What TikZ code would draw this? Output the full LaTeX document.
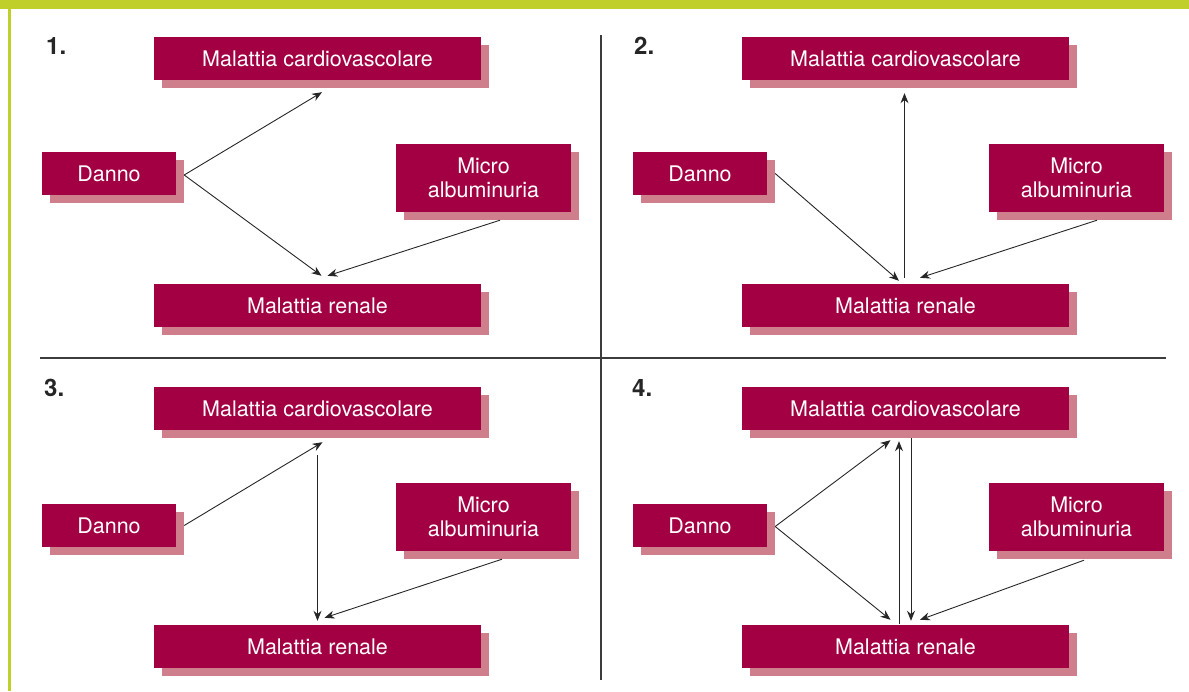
\documentclass[tikz,border=0pt]{standalone}
\usepackage{fontspec}
\setmainfont{TeX Gyre Heros}
\usetikzlibrary{arrows.meta, shadows, calc}
\definecolor{crim}{RGB}{163,0,68}
\definecolor{pk}{RGB}{206,127,139}
\definecolor{lime}{RGB}{193,207,42}
\definecolor{rule}{RGB}{60,60,60}
\tikzset{
  bx/.style   = {fill=crim, text=white, inner sep=0pt, align=center,
                 font=\fontsize{21.5}{23.5}\selectfont,
                 drop shadow={shadow xshift=8pt, shadow yshift=-8pt,
                              fill=pk, opacity=1}},
  wd/.style   = {bx, minimum width=327pt, minimum height=43pt},
  dn/.style   = {bx, minimum width=134pt, minimum height=43pt},
  mi/.style   = {bx, minimum width=175pt, minimum height=68pt},
  num/.style  = {font=\fontsize{24}{26}\selectfont\bfseries, anchor=base west,
                 inner sep=0pt, text=black!85},
  ar/.style   = {-{Stealth[length=10pt, width=8pt]}, line width=0.9pt, draw=black!85},
  sep/.style  = {draw=rule, line width=1.2pt},
}
\begin{document}
\begin{tikzpicture}[x=1pt, y=-1pt]

  \useasboundingbox (0,0) rectangle (1189,691);

  % ===== frame ==========================================================
  \fill[lime] (0,0) rectangle (1189,9);
  \fill[lime] (8,0) rectangle (11,691);
  \draw[sep] (40,358) -- (1166,358);
  \draw[sep] (601,35) -- (601,680);

  % ===== panel 1 ========================================================
  \node[num] (n1)  at (46,54)       {1.};
  \node[wd]  (cv1) at (317.5,58.5)  {Malattia cardiovascolare};
  \node[dn]  (dn1) at (109,173.5)   {Danno};
  \node[mi]  (mi1) at (483.5,178)   {Micro\\albuminuria};
  \node[wd]  (rn1) at (317.5,305.5) {Malattia renale};

  \draw[ar] ($(dn1.east)+(8,1.5)$)  -- ($(cv1.south)+(4.5,12)$);
  \draw[ar] ($(dn1.east)+(8,1.5)$)  -- ($(rn1.north)+(4,-8)$);
  \draw[ar] ($(mi1.south)+(16.5,8)$) -- ($(rn1.north)+(10,-8)$);

  % ===== panel 2 ========================================================
  \node[num] (n2)  at (634,54)      {2.};
  \node[wd]  (cv2) at (905.5,58.5)  {Malattia cardiovascolare};
  \node[dn]  (dn2) at (700,173.5)   {Danno};
  \node[mi]  (mi2) at (1076.5,178)  {Micro\\albuminuria};
  \node[wd]  (rn2) at (905.5,305.5) {Malattia renale};

  \draw[ar] ($(dn2.east)+(8,0)$)     -- ($(rn2.north)+(-6.5,-3)$);
  \draw[ar] ($(rn2.north)+(-1,-6)$)  -- ($(cv2.south)+(-1,13)$);
  \draw[ar] ($(mi2.south)+(20.5,8)$) -- ($(rn2.north)+(14.5,-6)$);

  % ===== panel 3 ========================================================
  \node[num] (n3)  at (44,396)      {3.};
  \node[wd]  (cv3) at (317.5,408.5) {Malattia cardiovascolare};
  \node[dn]  (dn3) at (109,525.5)   {Danno};
  \node[mi]  (mi3) at (483.5,517)   {Micro\\albuminuria};
  \node[wd]  (rn3) at (317.5,646.5) {Malattia renale};

  \draw[ar] ($(dn3.east)+(8,0)$)     -- ($(cv3.south)+(5,12)$);
  \draw[ar] ($(cv3.south)+(0,25)$)   -- ($(rn3.north)+(0,-4)$);
  \draw[ar] ($(mi3.south)+(18.5,8)$) -- ($(rn3.north)+(7,-7)$);

  % ===== panel 4 ========================================================
  \node[num] (n4)  at (632,396)     {4.};
  \node[wd]  (cv4) at (905.5,408.5) {Malattia cardiovascolare};
  \node[dn]  (dn4) at (700,525.5)   {Danno};
  \node[mi]  (mi4) at (1076.5,517)  {Micro\\albuminuria};
  \node[wd]  (rn4) at (905.5,646.5) {Malattia renale};

  \draw[ar] ($(dn4.east)+(8,1)$)     -- ($(cv4.south)+(-15,10)$);
  \draw[ar] ($(dn4.east)+(8,1)$)     -- ($(rn4.north)+(-15,-5)$);
  \draw[ar] ($(rn4.north)+(-6.5,-1)$) -- ($(cv4.south)+(-6.5,11)$);
  \draw[ar] ($(cv4.south)+(5.5,8)$)  -- ($(rn4.north)+(5.5,-4)$);
  \draw[ar] ($(mi4.south)+(7.5,9)$)  -- ($(rn4.north)+(14.5,-5)$);

\end{tikzpicture}
\end{document}
